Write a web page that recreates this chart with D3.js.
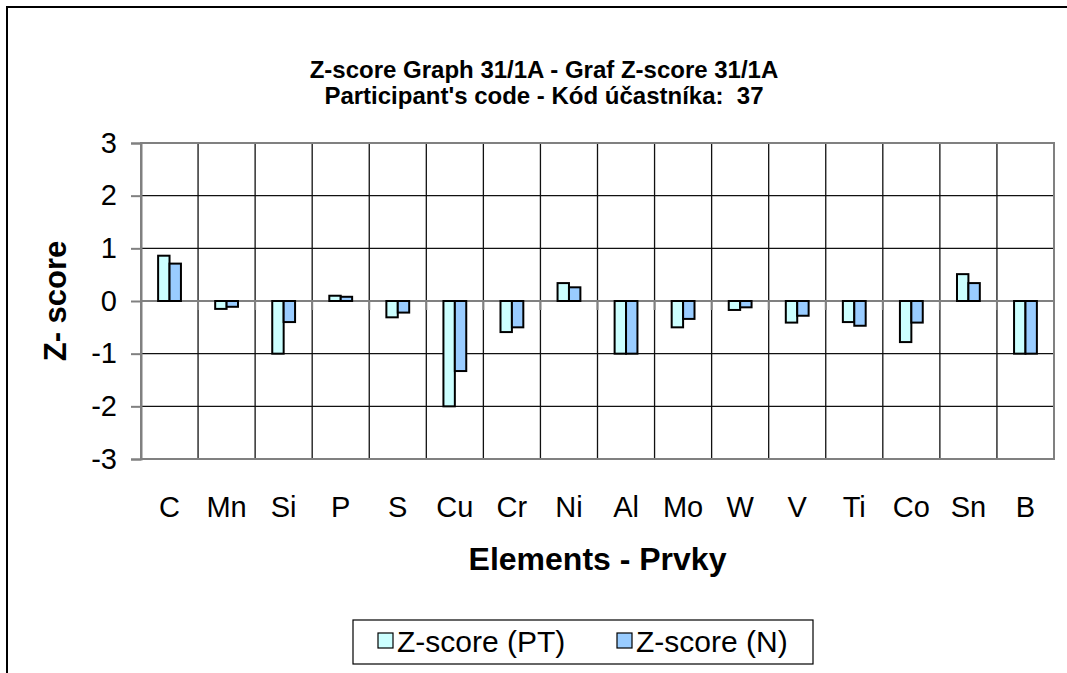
<!DOCTYPE html>
<html>
<head>
<meta charset="utf-8">
<script src="https://cdn.jsdelivr.net/npm/d3@7"></script>
<style>
  html, body { margin: 0; padding: 0; background: #fff; }
  svg { display: block; font-family: "Liberation Sans", Arial, sans-serif; }
</style>
</head>
<body>
<svg id="chart" width="1067" height="673"></svg>
<script>
// Elements on the x axis
const elements = ["C", "Mn", "Si", "P", "S", "Cu", "Cr", "Ni", "Al", "Mo", "W", "V", "Ti", "Co", "Sn", "B"];
// Z-score values for each series
const zPT = [0.86, -0.15, -1.0, 0.10, -0.31, -2.0, -0.59, 0.34, -1.0, -0.50, -0.17, -0.41, -0.40, -0.78, 0.51, -1.0];
const zN  = [0.71, -0.11, -0.40, 0.08, -0.22, -1.33, -0.50, 0.26, -1.0, -0.34, -0.12, -0.28, -0.47, -0.41, 0.34, -1.0];
// Y axis ticks
const yTicks = [3, 2, 1, 0, -1, -2, -3];
const seriesNames = ["Z-score (PT)", "Z-score (N)"];
const seriesColors = ["#CCFFFF", "#99CCFF"];

const svg = d3.select("#chart");
const plot = { left: 141, right: 1054, top: 143, bottom: 459 };

// Outer chart frame
svg.append("rect")
  .attr("x", 7).attr("y", 7)
  .attr("width", 1200).attr("height", 800)
  .attr("fill", "#fff").attr("stroke", "#000").attr("stroke-width", 2);

const x = d3.scaleBand().domain(elements).range([plot.left, plot.right]).padding(0);
const y = d3.scaleLinear().domain([-3, 3]).range([plot.bottom, plot.top]);
const bw = x.bandwidth();

// Title
const title = svg.append("text")
  .attr("text-anchor", "middle")
  .attr("font-weight", "bold")
  .attr("font-size", 24)
  .style("white-space", "pre");
title.append("tspan").attr("x", 544).attr("y", 78).text("Z-score Graph 31/1A - Graf Z-score 31/1A");
title.append("tspan").attr("x", 544).attr("y", 104).text("Participant's code - Kód účastníka:  37");

// Horizontal gridlines
svg.append("g").selectAll("line")
  .data(yTicks.filter(d => d !== 0 && d !== 3 && d !== -3))
  .join("line")
  .attr("x1", plot.left).attr("x2", plot.right)
  .attr("y1", d => y(d)).attr("y2", d => y(d))
  .attr("stroke", "#111").attr("stroke-width", 1.3);

// Vertical gridlines at category boundaries
svg.append("g").selectAll("line")
  .data(elements.slice(1))
  .join("line")
  .attr("x1", d => x(d)).attr("x2", d => x(d))
  .attr("y1", plot.top).attr("y2", plot.bottom)
  .attr("stroke", "#111").attr("stroke-width", 1.3);

// Plot area border
svg.append("rect")
  .attr("x", plot.left).attr("y", plot.top)
  .attr("width", plot.right - plot.left).attr("height", plot.bottom - plot.top)
  .attr("fill", "none").attr("stroke", "#808080").attr("stroke-width", 2);

// Category axis along zero, with tick marks at boundaries
svg.append("line")
  .attr("x1", plot.left).attr("x2", plot.right)
  .attr("y1", y(0)).attr("y2", y(0))
  .attr("stroke", "#808080").attr("stroke-width", 2);
svg.append("g").selectAll("line")
  .data(elements.slice(1))
  .join("line")
  .attr("x1", d => x(d)).attr("x2", d => x(d))
  .attr("y1", y(0)).attr("y2", y(0) + 9)
  .attr("stroke", "#808080").attr("stroke-width", 2);

// Bars
const series = [zPT, zN];
series.forEach((vals, s) => {
  svg.append("g").selectAll("rect")
    .data(elements.map((e, i) => ({ e, v: vals[i] })))
    .join("rect")
    .attr("x", d => x(d.e) + bw * (0.3 + 0.2 * s))
    .attr("width", bw * 0.2)
    .attr("y", d => y(Math.max(0, d.v)))
    .attr("height", d => Math.abs(y(d.v) - y(0)))
    .attr("fill", seriesColors[s])
    .attr("stroke", "#000").attr("stroke-width", 2);
});

// Value axis
const yAxis = d3.axisLeft(y).tickValues(yTicks).tickSize(10).tickPadding(14).tickFormat(d => String(d));
const yg = svg.append("g").attr("transform", `translate(${plot.left},0)`).call(yAxis);
yg.select(".domain").attr("stroke", "#808080").attr("stroke-width", 2);
yg.selectAll(".tick line").attr("stroke", "#808080").attr("stroke-width", 2);
yg.selectAll(".tick text")
  .attr("font-size", 29).attr("font-family", "Liberation Sans, Arial, sans-serif")
  .attr("fill", "#000");

// Category labels
svg.append("g").selectAll("text")
  .data(elements)
  .join("text")
  .attr("x", d => x(d) + bw / 2)
  .attr("y", 517)
  .attr("text-anchor", "middle")
  .attr("font-size", 29)
  .text(d => d);

// Axis titles
svg.append("text")
  .attr("x", (plot.left + plot.right) / 2).attr("y", 570)
  .attr("text-anchor", "middle").attr("font-weight", "bold").attr("font-size", 32)
  .text("Elements - Prvky");
svg.append("text")
  .attr("transform", `translate(66,${y(0)}) rotate(-90)`)
  .attr("text-anchor", "middle").attr("font-weight", "bold").attr("font-size", 31)
  .text("Z- score");

// Legend
const lg = svg.append("g");
lg.append("rect")
  .attr("x", 353).attr("y", 620).attr("width", 460).attr("height", 44)
  .attr("fill", "#fff").attr("stroke", "#000").attr("stroke-width", 1.2);
const legendX = [378, 617];
seriesNames.forEach((name, s) => {
  lg.append("rect")
    .attr("x", legendX[s]).attr("y", 633).attr("width", 15).attr("height", 15)
    .attr("fill", seriesColors[s]).attr("stroke", "#000").attr("stroke-width", 1.2);
  lg.append("text")
    .attr("x", legendX[s] + 19).attr("y", 652)
    .attr("font-size", 30)
    .text(name);
});
</script>
</body>
</html>
